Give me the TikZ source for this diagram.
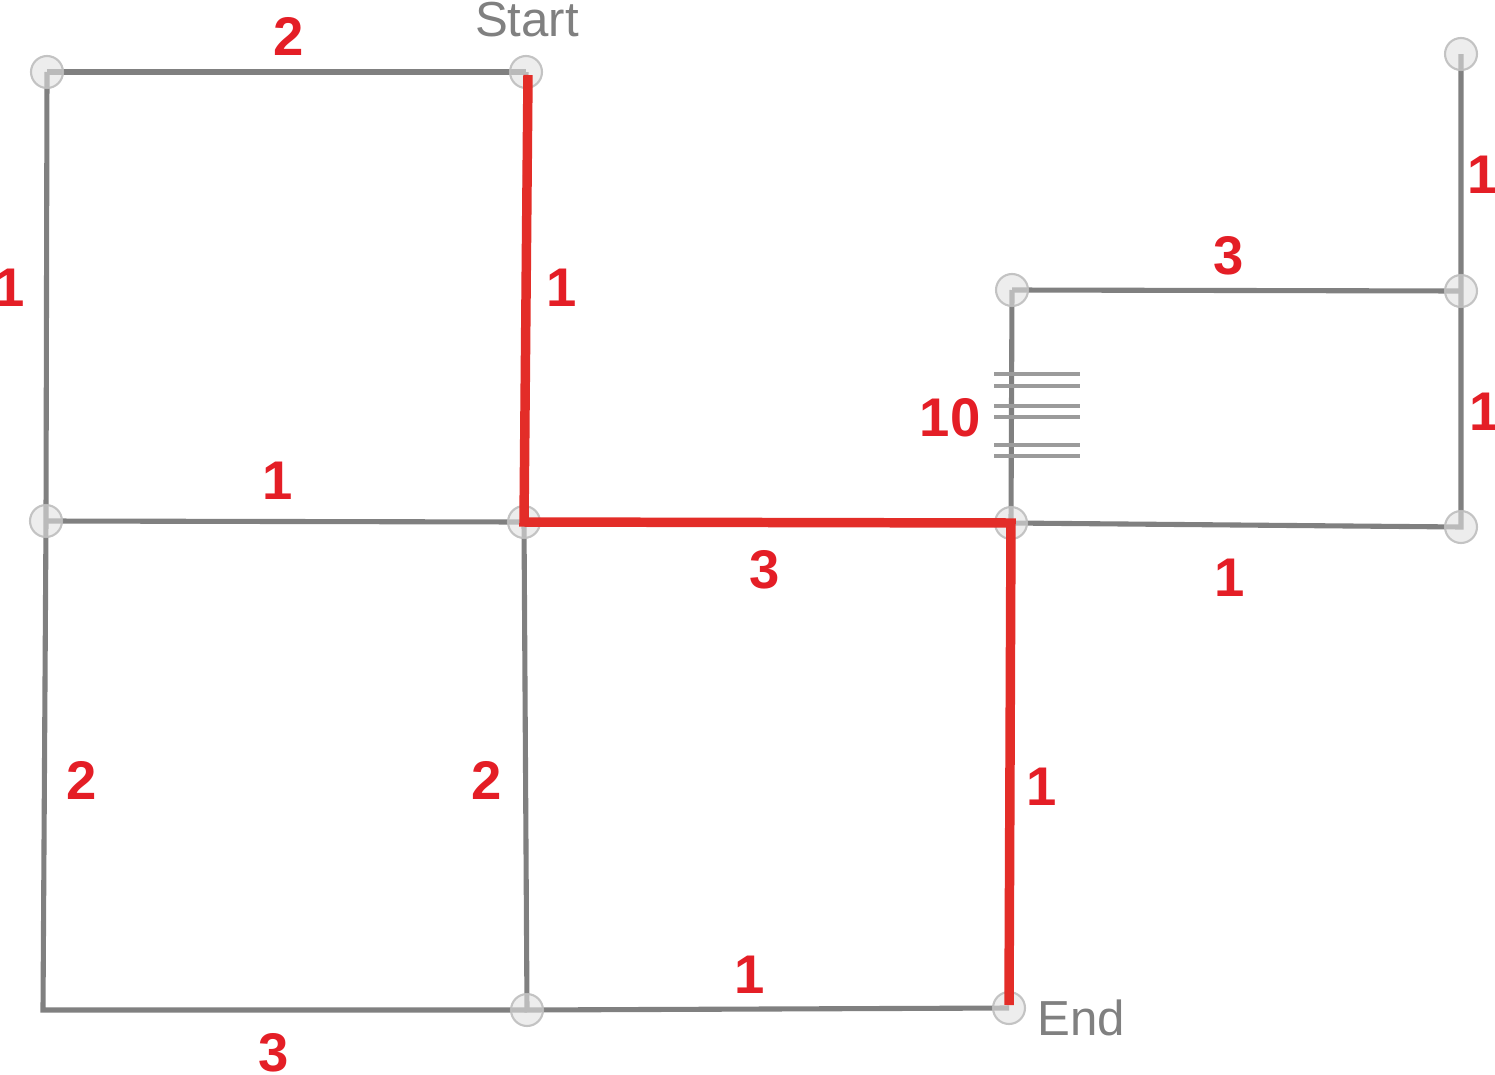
\documentclass[tikz,border=0pt]{standalone}
\usepackage{fontspec}
\setmainfont{Liberation Sans}
\usepackage{tikz}
\usetikzlibrary{positioning, calc}
\definecolor{edgegray}{RGB}{128,128,128}
\definecolor{tickgray}{RGB}{155,155,155}
\definecolor{routered}{RGB}{227,45,40}
\definecolor{labelred}{RGB}{228,30,38}
\definecolor{vtxfill}{RGB}{225,225,225}
\definecolor{vtxdraw}{RGB}{190,190,190}

\begin{document}
\begin{tikzpicture}[
    x=0.02cm, y=-0.02cm,
    vtx/.style={circle, draw=vtxdraw, fill=vtxfill, fill opacity=0.6, draw opacity=0.9, line width=1.2pt, minimum size=0.64cm, inner sep=0pt},
    edge/.style={draw=edgegray, line width=2.9pt},
    route/.style={draw=routered, line width=5.4pt},
    tick/.style={draw=tickgray, line width=2.2pt},
    wt/.style={text=labelred, font=\fontsize{31}{31}\selectfont\bfseries, inner sep=0pt},
    tag/.style={text=edgegray, font=\fontsize{28}{28}\selectfont, inner sep=0pt}
]
\useasboundingbox (0,0) rectangle (1495,1075);

% junctions
\coordinate (sw) at (43,1010);
\coordinate (nw) at (47,72);
\coordinate (start) at (526,72);
\coordinate (w) at (46,521);
\coordinate (mid) at (524,522);
\coordinate (s) at (527,1010);
\coordinate (end) at (1009,1008);
\coordinate (hub) at (1011,523);
\coordinate (ne) at (1012,290);
\coordinate (ee) at (1461,291);
\coordinate (top) at (1461,54);
\coordinate (se) at (1461,527);

% gray streets
\draw[edge] (nw) -- (start);
\draw[edge] (nw) -- (w) -- (sw) -- (s);
\draw[edge] (w) -- (mid) -- (s) -- (end);
\draw[edge] (start) -- (mid);
\draw[edge] (ne) -- (ee);
\draw[edge] (top) -- (ee) -- (se) -- (hub) -- (ne);

% congestion marks
\foreach \y in {374,386,406,417,445,456}
  \draw[tick] (994,\y) -- (1080,\y);

% junction dots
\foreach \n in {nw,start,w,mid,s,end,hub,ne,ee,top,se}
  \node[vtx] (\n-dot) at (\n) {};

% shortest route
\draw[route] ($(start)+(2,3)$) -- (mid) -- (hub) -- ($(end)+(0,-3)$);

% weights
\node[wt] (w1) at (289,36) {2};
\node[wt] (w2) at (10,288) {1};
\node[wt] (w3) at (562,288) {1};
\node[wt] (w4) at (278,481) {1};
\node[wt] (w5) at (765,570) {3};
\node[wt] (w6) at (82,780) {2};
\node[wt] (w7) at (487,780) {2};
\node[wt] (w8) at (750,975) {1};
\node[wt] (w9) at (274,1053) {3};
\node[wt] (w10) at (1042,787) {1};
\node[wt] (w11) at (950,418) {10};
\node[wt] (w12) at (1229,256) {3};
\node[wt] (w13) at (1483,175) {1};
\node[wt] (w14) at (1485,412) {1};
\node[wt] (w15) at (1230,578) {1};

\node[tag] (starttxt) at (527,20) {Start};
\node[tag, anchor=west] (endtxt) at (1037,1018) {End};
\end{tikzpicture}
\end{document}
